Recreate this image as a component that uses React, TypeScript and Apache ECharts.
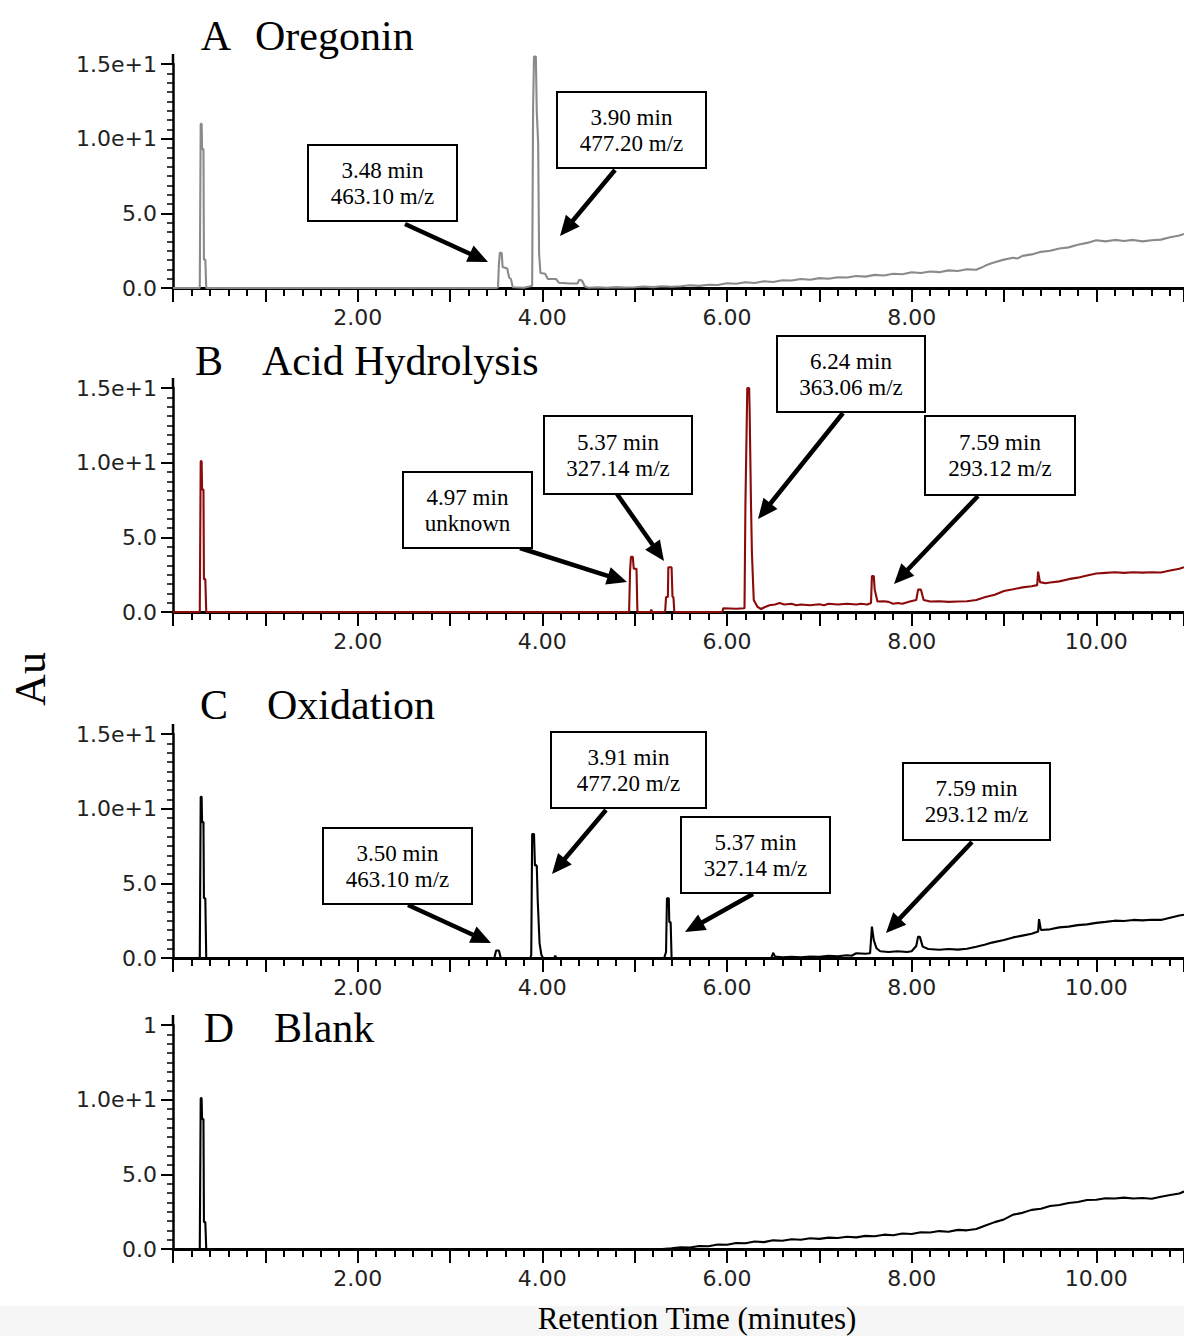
import React, { useEffect, useRef } from "react";
import * as echarts from "echarts";

// ---------- DATA (retention time in minutes, absorbance in Au) ----------
const oregoninTrace: [number, number][] = [
  [0, 0], [0.29, 0], [0.3, 11.0], [0.31, 11.0], [0.315, 9.3], [0.33, 9.3], [0.335, 1.9], [0.35, 1.9], [0.36, 0],
  [1.0, 0], [2.0, 0], [3.0, 0], [3.5, 0], [3.52, 0.05], [3.53, 1.6], [3.54, 2.36], [3.56, 2.36], [3.57, 1.4],
  [3.62, 1.3], [3.64, 0.7], [3.66, 0.6], [3.68, 0.05], [3.8, 0.02], [3.86, 0.1], [3.89, 0.15], [3.9, 12.0],
  [3.91, 15.5], [3.93, 15.5], [3.94, 11.8], [3.955, 9.7], [3.965, 2.3], [3.98, 1.0], [4.03, 0.95], [4.06, 0.6],
  [4.15, 0.6], [4.18, 0.35], [4.3, 0.3], [4.38, 0.3], [4.4, 0.55], [4.43, 0.5], [4.46, 0.1],
  [4.5, 0.02], [4.6, 0.05], [4.7, 0.02], [4.8, 0.06], [4.9, 0.03], [5.0, 0.05], [5.1, 0.1], [5.2, 0.06],
  [5.3, 0.12], [5.4, 0.08], [5.5, 0.12], [5.6, 0.18], [5.7, 0.14], [5.8, 0.22], [5.9, 0.2], [6.0, 0.32],
  [6.1, 0.28], [6.2, 0.38], [6.3, 0.33], [6.4, 0.45], [6.5, 0.4], [6.6, 0.52], [6.7, 0.5], [6.8, 0.6],
  [6.9, 0.55], [7.0, 0.66], [7.1, 0.62], [7.2, 0.72], [7.3, 0.7], [7.4, 0.8], [7.5, 0.76], [7.6, 0.88],
  [7.7, 0.84], [7.8, 0.95], [7.9, 0.92], [8.0, 1.05], [8.1, 1.0], [8.2, 1.1], [8.3, 1.06], [8.4, 1.18],
  [8.5, 1.14], [8.6, 1.25], [8.7, 1.22], [8.75, 1.35], [8.8, 1.5], [8.85, 1.62], [8.9, 1.72], [9.0, 1.9],
  [9.1, 2.02], [9.15, 1.98], [9.2, 2.15], [9.3, 2.25], [9.4, 2.42], [9.5, 2.5], [9.6, 2.65], [9.7, 2.72],
  [9.8, 2.9], [9.9, 3.02], [10.0, 3.2], [10.1, 3.12], [10.2, 3.22], [10.3, 3.15], [10.4, 3.22], [10.5, 3.12],
  [10.6, 3.2], [10.7, 3.24], [10.8, 3.4], [10.9, 3.52], [10.95, 3.62],
];

const acidTrace: [number, number][] = [
  [0, 0], [0.29, 0], [0.3, 10.1], [0.31, 10.1], [0.315, 8.2], [0.33, 8.2], [0.335, 2.2], [0.35, 2.2], [0.36, 0],
  [2.0, 0], [4.0, 0], [4.94, 0], [4.95, 2.7], [4.96, 3.7], [4.98, 3.7], [4.99, 2.9], [5.02, 2.9], [5.03, 0],
  [5.17, 0], [5.18, 0.15], [5.19, 0], [5.33, 0], [5.34, 1.0], [5.36, 1.0], [5.365, 3.0], [5.4, 3.0], [5.41, 1.0],
  [5.42, 1.0], [5.43, 0], [5.95, 0], [5.96, 0.25], [6.1, 0.22], [6.19, 0.25], [6.2, 7.3], [6.22, 15.0],
  [6.24, 15.0], [6.245, 13.7], [6.26, 7.3], [6.27, 4.0], [6.29, 0.8], [6.33, 0.35], [6.37, 0.2], [6.4, 0.3],
  [6.46, 0.45], [6.52, 0.5], [6.57, 0.6], [6.62, 0.5], [6.7, 0.55], [6.75, 0.45], [6.8, 0.5], [6.9, 0.45],
  [7.0, 0.52], [7.05, 0.45], [7.1, 0.55], [7.2, 0.5], [7.3, 0.55], [7.4, 0.5], [7.45, 0.55], [7.52, 0.5],
  [7.56, 0.6], [7.57, 2.4], [7.59, 2.4], [7.6, 1.5], [7.63, 0.7], [7.7, 0.72], [7.75, 0.68], [7.8, 0.55],
  [7.85, 0.6], [7.9, 0.55], [7.98, 0.7], [8.05, 0.8], [8.07, 1.5], [8.1, 1.5], [8.13, 0.8], [8.2, 0.7],
  [8.3, 0.72], [8.4, 0.68], [8.5, 0.7], [8.6, 0.72], [8.7, 0.8], [8.8, 1.0], [8.9, 1.15], [9.0, 1.4],
  [9.1, 1.52], [9.2, 1.65], [9.3, 1.72], [9.36, 1.8], [9.37, 2.7], [9.39, 2.0], [9.45, 1.92], [9.5, 1.98],
  [9.6, 2.05], [9.7, 2.2], [9.8, 2.3], [9.9, 2.45], [10.0, 2.58], [10.1, 2.62], [10.2, 2.66], [10.3, 2.62],
  [10.4, 2.66], [10.5, 2.64], [10.6, 2.66], [10.7, 2.65], [10.8, 2.78], [10.9, 2.9], [10.95, 3.0],
];

const oxidationTrace: [number, number][] = [
  [0, 0], [0.29, 0], [0.3, 10.8], [0.31, 10.8], [0.315, 9.1], [0.33, 9.1], [0.335, 4.0], [0.35, 4.0], [0.36, 0],
  [2.0, 0], [3.48, 0], [3.5, 0.5], [3.53, 0.5], [3.55, 0], [3.87, 0], [3.88, 0.2], [3.89, 8.3], [3.91, 8.3],
  [3.92, 6.2], [3.94, 6.2], [3.95, 3.9], [3.97, 1.0], [3.99, 0.2], [4.01, 0], [4.13, 0], [4.14, 0.15],
  [4.15, 0], [5.32, 0], [5.34, 0.4], [5.35, 4.0], [5.37, 4.0], [5.375, 2.4], [5.39, 2.4], [5.4, 0],
  [6.48, 0], [6.5, 0.35], [6.52, 0.1], [6.6, 0.05], [6.7, 0.08], [6.8, 0.04], [6.9, 0.1], [7.0, 0.08],
  [7.1, 0.15], [7.2, 0.12], [7.3, 0.18], [7.35, 0.15], [7.4, 0.32], [7.5, 0.28], [7.55, 0.32], [7.57, 2.1],
  [7.59, 1.2], [7.62, 0.65], [7.66, 0.45], [7.75, 0.4], [7.85, 0.45], [7.95, 0.4], [8.0, 0.45], [8.05, 0.8],
  [8.07, 1.43], [8.09, 1.4], [8.12, 0.76], [8.18, 0.6], [8.3, 0.55], [8.4, 0.6], [8.5, 0.56], [8.6, 0.62],
  [8.7, 0.75], [8.8, 0.9], [8.87, 1.03], [9.0, 1.2], [9.1, 1.38], [9.2, 1.5], [9.3, 1.62], [9.37, 1.77],
  [9.38, 2.6], [9.4, 1.88], [9.5, 1.92], [9.6, 2.05], [9.7, 2.1], [9.8, 2.2], [9.9, 2.25], [10.0, 2.35],
  [10.1, 2.42], [10.2, 2.5], [10.3, 2.48], [10.4, 2.55], [10.5, 2.52], [10.6, 2.56], [10.7, 2.55],
  [10.8, 2.7], [10.9, 2.85], [10.95, 2.9],
];

const blankTrace: [number, number][] = [
  [0, 0], [0.29, 0], [0.3, 10.1], [0.31, 10.1], [0.315, 8.7], [0.33, 8.7], [0.335, 1.8], [0.35, 1.8], [0.36, 0],
  [2.0, 0], [4.0, 0], [5.3, 0], [5.4, 0.05], [5.5, 0.12], [5.6, 0.1], [5.7, 0.2], [5.8, 0.18], [5.9, 0.3],
  [6.0, 0.28], [6.1, 0.4], [6.2, 0.38], [6.3, 0.5], [6.4, 0.46], [6.5, 0.58], [6.6, 0.55], [6.7, 0.65],
  [6.8, 0.62], [6.9, 0.72], [7.0, 0.68], [7.1, 0.76], [7.2, 0.74], [7.3, 0.82], [7.4, 0.78], [7.5, 0.88],
  [7.6, 0.85], [7.7, 0.96], [7.8, 0.92], [7.9, 1.04], [8.0, 1.0], [8.1, 1.12], [8.2, 1.1], [8.3, 1.2],
  [8.4, 1.16], [8.5, 1.28], [8.6, 1.25], [8.7, 1.34], [8.8, 1.58], [8.9, 1.8], [9.0, 1.98], [9.1, 2.3],
  [9.2, 2.42], [9.3, 2.62], [9.4, 2.7], [9.5, 2.88], [9.6, 2.95], [9.7, 3.08], [9.8, 3.15], [9.9, 3.28],
  [10.0, 3.3], [10.1, 3.4], [10.2, 3.38], [10.3, 3.44], [10.4, 3.38], [10.5, 3.42], [10.6, 3.36],
  [10.7, 3.5], [10.8, 3.62], [10.9, 3.72], [10.95, 3.85],
];

const panelLetters = ["A", "B", "C", "D"];
const panelNames = ["Oregonin", "Acid Hydrolysis", "Oxidation", "Blank"];
const traceColors = ["#8a8a8a", "#8b0a0a", "#000000", "#000000"];
const yTickLabels: Record<number, string> = { 0: "0.0", 5: "5.0", 10: "1.0e+1", 15: "1.5e+1" };

const annotationsA = [["3.48 min", "463.10 m/z"], ["3.90 min", "477.20 m/z"]];
const annotationsB = [["4.97 min", "unknown"], ["5.37 min", "327.14 m/z"], ["6.24 min", "363.06 m/z"], ["7.59 min", "293.12 m/z"]];
const annotationsC = [["3.50 min", "463.10 m/z"], ["3.91 min", "477.20 m/z"], ["5.37 min", "327.14 m/z"], ["7.59 min", "293.12 m/z"]];

// ---------- LAYOUT ----------
const GRID_LEFT = 173;
const GRID_H = 224;
const gridTops = [64, 388, 734, 1025];
const titleY = [36, 361, 705, 1028];
const letterX = [216, 209, 214, 219];
const nameX = [255, 262, 267, 274];

// box layout: [x, y, w, h] and arrow [x1,y1,x2,y2]
const boxesA = [[308, 145, 149, 76], [557, 92, 149, 76]];
const arrowsA = [[405, 224, 488, 262], [615, 170, 560, 236]];
const boxesB = [[403, 472, 129, 76], [544, 416, 148, 78], [777, 336, 148, 76], [925, 416, 150, 79]];
const arrowsB = [[520, 548, 627, 582], [617, 494, 664, 561], [843, 413, 758, 519], [978, 496, 894, 584]];
const boxesC = [[323, 828, 149, 76], [551, 732, 155, 76], [681, 817, 149, 76], [903, 763, 147, 77]];
const arrowsC = [[408, 905, 491, 943], [606, 810, 552, 874], [753, 894, 685, 932], [972, 842, 886, 933]];

const SERIF = "'Liberation Serif', 'Times New Roman', serif";
const SANS = "'DejaVu Sans', Verdana, sans-serif";

function arrow(a: number[]) {
  const [x1, y1, x2, y2] = a;
  const dx = x2 - x1, dy = y2 - y1;
  const L = Math.hypot(dx, dy);
  const ux = dx / L, uy = dy / L;
  const hl = 20, hw = 9;
  const bx = x2 - ux * hl, by = y2 - uy * hl;
  return [
    { type: "line", z: 100, shape: { x1, y1, x2: bx + ux * 3, y2: by + uy * 3 }, style: { stroke: "#000", lineWidth: 4.5 } },
    {
      type: "polygon", z: 100,
      shape: { points: [[x2, y2], [bx - uy * hw, by + ux * hw], [bx + uy * hw, by - ux * hw]] },
      style: { fill: "#000" },
    },
  ];
}

function box(b: number[], lines: string[]) {
  const [x, y, w, h] = b;
  return [
    { type: "rect", z: 100, shape: { x, y, width: w, height: h }, style: { fill: "#fff", stroke: "#000", lineWidth: 2 } },
    {
      type: "text", z: 101, x: x + w / 2, y: y + h / 2 - 13,
      style: { text: lines[0], font: `23px ${SERIF}`, fill: "#000", align: "center", verticalAlign: "middle" },
    },
    {
      type: "text", z: 101, x: x + w / 2, y: y + h / 2 + 13,
      style: { text: lines[1], font: `23px ${SERIF}`, fill: "#000", align: "center", verticalAlign: "middle" },
    },
  ];
}

export default function App() {
  const ref = useRef<HTMLDivElement>(null);
  useEffect(() => {
    if (!ref.current) return;
    const chart = echarts.init(ref.current, undefined, { renderer: "svg" });
    const traces = [oregoninTrace, acidTrace, oxidationTrace, blankTrace];

    const grids = gridTops.map((t) => ({ left: GRID_LEFT, top: t, right: 0, height: GRID_H }));
    const xAxes = gridTops.map((_, i) => ({
      type: "value", gridIndex: i, min: 0, max: 10.95, interval: 1,
      axisLine: { show: true, onZero: false, lineStyle: { color: "#000", width: 3 } },
      axisTick: { show: true, length: 14, lineStyle: { color: "#000", width: 2 } },
      minorTick: { show: true, splitNumber: 5, length: 8, lineStyle: { color: "#000", width: 2 } },
      splitLine: { show: false },
      axisLabel: {
        margin: 18, fontSize: 22, fontFamily: SANS, color: "#222",
        showMaxLabel: false,
        formatter: (v: number) => (v > 0 && Math.abs(v % 2) < 1e-9 && (i !== 0 || v < 10) ? v.toFixed(2) : ""),
      },
    }));
    const yAxes = gridTops.map((_, i) => ({
      type: "value", gridIndex: i, min: 0, max: 15, interval: 5,
      axisLine: { show: true, lineStyle: { color: "#000", width: 2.5 } },
      axisTick: { show: true, length: 12, lineStyle: { color: "#000", width: 2 } },
      minorTick: { show: true, splitNumber: 8, length: 6, lineStyle: { color: "#000", width: 1.5 } },
      splitLine: { show: false },
      axisLabel: {
        margin: 16, fontSize: 22, fontFamily: SANS, color: "#222",
        formatter: (v: number) => (i === 3 && v === 15 ? "1" : yTickLabels[v] ?? ""),
      },
    }));
    const series = traces.map((d, i) => ({
      type: "line", xAxisIndex: i, yAxisIndex: i, data: d, showSymbol: false, clip: false,
      lineStyle: { color: traceColors[i], width: 2.1 }, z: 3,
    }));

    const graphics: any[] = [];
    gridTops.forEach((t, i) => {
      graphics.push({ type: "line", shape: { x1: GRID_LEFT, y1: t - 10, x2: GRID_LEFT, y2: t }, style: { stroke: "#000", lineWidth: 2.5 } });
      graphics.push({
        type: "text", x: letterX[i], y: titleY[i],
        style: { text: panelLetters[i], font: `42px ${SERIF}`, fill: "#000", align: "center", verticalAlign: "middle" },
      });
      graphics.push({
        type: "text", x: nameX[i], y: titleY[i],
        style: { text: panelNames[i], font: `42px ${SERIF}`, fill: "#000", align: "left", verticalAlign: "middle" },
      });
    });
    const addGroup = (boxes: number[][], arrows: number[][], ann: string[][]) => {
      boxes.forEach((b, k) => {
        graphics.push(...arrow(arrows[k]));
        graphics.push(...box(b, ann[k]));
      });
    };
    addGroup(boxesA, arrowsA, annotationsA);
    addGroup(boxesB, arrowsB, annotationsB);
    addGroup(boxesC, arrowsC, annotationsC);

    graphics.push({ type: "rect", z: -10, shape: { x: 0, y: 1306, width: 1184, height: 30 }, style: { fill: "#f6f6f6" } });
    graphics.push({
      type: "text", x: 697, y: 1318,
      style: { text: "Retention Time (minutes)", font: `31px ${SERIF}`, fill: "#000", align: "center", verticalAlign: "middle" },
    });
    graphics.push({
      type: "text", x: 30, y: 679, rotation: Math.PI / 2,
      style: { text: "Au", font: `44px ${SERIF}`, fill: "#000", align: "center", verticalAlign: "middle" },
    });

    chart.setOption({
      animation: false,
      backgroundColor: "#ffffff",
      grid: grids,
      xAxis: xAxes,
      yAxis: yAxes,
      series,
      graphic: graphics,
    });
    return () => chart.dispose();
  }, []);
  return <div ref={ref} style={{ position: "absolute", left: 0, top: 0, width: 1184, height: 1336 }} />;
}
